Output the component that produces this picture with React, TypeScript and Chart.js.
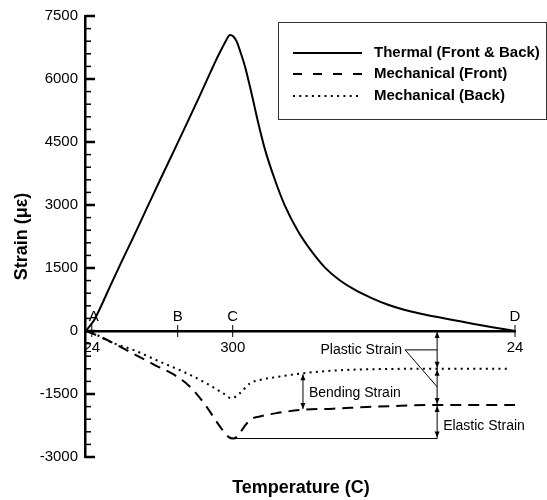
import React, { useEffect, useRef } from "react";
import { Chart, registerables } from "chart.js";

Chart.register(...registerables);

// ---- Data (x = process position: A=0 ... D=100) ----
const thermalT = [-1.4, 0.5, 2.05, 4.4, 6.8, 9.8, 12.9, 16.1, 19.6, 22.5, 25.5, 28.0, 29.5, 30.8, 31.8, 32.6, 33.4, 34.2, 35.2, 36.2, 37.7, 39.3, 40.9, 43.2, 45.6, 48.7, 51.9, 55.1, 58.5, 62.0, 66.0, 70.0, 74.0, 78.0, 82.0, 86.0, 90.0, 95.0, 100];
const thermalStrain = [0, 250, 560, 1080, 1600, 2230, 2900, 3590, 4330, 4950, 5600, 6150, 6480, 6740, 6930, 7050, 7020, 6900, 6620, 6300, 5680, 4970, 4330, 3620, 2990, 2380, 1900, 1510, 1215, 990, 790, 625, 500, 405, 325, 250, 175, 85, 0];

const frontT = [-1.4, 2.3, 7.0, 11.7, 14.9, 18.8, 21.5, 23.9, 27.1, 30.3, 32.3, 33.4, 34.4, 35.8, 37.4, 39.7, 43.7, 50.0, 57.0, 65.0, 73.0, 81.0, 89.0, 100];
const frontStrain = [0, -150, -390, -640, -810, -1005, -1180, -1400, -1800, -2275, -2520, -2560, -2510, -2310, -2115, -2035, -1955, -1875, -1850, -1810, -1780, -1760, -1760, -1760];

const backT = [-1.4, 0.5, 4.3, 9.8, 16.1, 22.4, 27.1, 31.0, 33.0, 35.0, 37.4, 39.7, 44.4, 50.0, 57.8, 65.7, 81.5, 99.0];
const backStrain = [0, -60, -255, -450, -730, -1005, -1245, -1480, -1600, -1480, -1245, -1165, -1085, -1005, -940, -910, -900, -900];

const xTickValues = [0, 33.3, 100];
const xTickLabels = ["24", "300", "24"];
const stageLetters = ["A", "B", "C", "D"];
const stageT = [0, 20.3, 33.3, 100];

const seriesNames = ["Thermal (Front & Back)", "Mechanical (Front)", "Mechanical (Back)"];

// annotation values (data units)
const annotT = 81.6;
const annotBack = -900;
const annotFront = -1760;
const annotBottom = -2560;
const bottomStartT = 33.4;
const bendT = 49.9;
const bendTop = -1030;
const bendBottom = -1860;
const plasticLabelY = -450;
const plasticLeaderY = -1330;

const FONT = "Arial, 'Liberation Sans', sans-serif";
const DASH = [11, 7];
const DOT = [2, 4.3];

function arrowHead(ctx: CanvasRenderingContext2D, x: number, y: number, dir: number) {
  // dir: -1 pointing up, 1 pointing down
  ctx.beginPath();
  ctx.moveTo(x, y);
  ctx.lineTo(x - 2.5, y - dir * 6);
  ctx.lineTo(x + 2.5, y - dir * 6);
  ctx.closePath();
  ctx.fill();
}

const decorPlugin = {
  id: "decor",
  afterDatasetsDraw(chart: any) {
    const ctx: CanvasRenderingContext2D = chart.ctx;
    const xs = chart.scales.x;
    const ys = chart.scales.y;
    const area = chart.chartArea;
    const X = (v: number) => xs.getPixelForValue(v);
    const Y = (v: number) => ys.getPixelForValue(v);
    ctx.save();
    ctx.fillStyle = "#000";
    ctx.strokeStyle = "#000";

    // y-axis inward ticks
    for (let v = -3000; v <= 7500; v += 300) {
      const major = v % 1500 === 0;
      ctx.lineWidth = major ? 2.5 : 1.5;
      ctx.beginPath();
      ctx.moveTo(area.left, Y(v));
      ctx.lineTo(area.left + (major ? 10 : 6), Y(v));
      ctx.stroke();
    }

    // x-axis stage ticks and letters
    const y0 = Y(0);
    ctx.lineWidth = 1;
    ctx.font = `15px ${FONT}`;
    ctx.textAlign = "center";
    ctx.textBaseline = "middle";
    stageT.forEach((t, i) => {
      const px = X(t);
      ctx.beginPath();
      ctx.moveTo(px, y0 - 6);
      ctx.lineTo(px, y0 + 6);
      ctx.stroke();
      ctx.fillText(stageLetters[i], px + (i === 0 ? 2 : 0), y0 - 14);
    });

    // annotations
    const ax = X(annotT);
    ctx.lineWidth = 1;
    ctx.beginPath();
    ctx.moveTo(ax, y0);
    ctx.lineTo(ax, Y(annotBottom));
    ctx.moveTo(X(bottomStartT), Y(annotBottom));
    ctx.lineTo(ax, Y(annotBottom));
    ctx.stroke();
    const segs = [
      [0, annotBack],
      [annotBack, annotFront],
      [annotFront, annotBottom],
    ];
    segs.forEach(([a, b]) => {
      arrowHead(ctx, ax, Y(a) + 1, -1);
      arrowHead(ctx, ax, Y(b) - 1, 1);
    });

    // bending strain
    const bx = X(bendT);
    ctx.beginPath();
    ctx.moveTo(bx, Y(bendTop));
    ctx.lineTo(bx, Y(bendBottom));
    ctx.stroke();
    arrowHead(ctx, bx, Y(bendTop), -1);
    arrowHead(ctx, bx, Y(bendBottom), 1);

    // plastic strain leaders
    const ly = Y(plasticLabelY);
    const lx = ax - 32;
    ctx.beginPath();
    ctx.moveTo(lx, ly);
    ctx.lineTo(ax, ly);
    ctx.moveTo(lx, ly);
    ctx.lineTo(ax, Y(plasticLeaderY));
    ctx.stroke();

    ctx.font = `14px ${FONT}`;
    ctx.textBaseline = "middle";
    ctx.textAlign = "right";
    ctx.fillText("Plastic Strain", lx - 3, ly);
    ctx.textAlign = "left";
    ctx.fillText("Bending Strain", bx + 6, Y((bendTop + bendBottom) / 2) + 1);
    ctx.fillText("Elastic Strain", ax + 6, Y((annotFront + annotBottom) / 2) + 4);

    // axis titles
    ctx.font = `bold 18px ${FONT}`;
    ctx.textAlign = "center";
    ctx.fillText("Temperature (C)", (area.left + area.right) / 2 + 1, 488);
    ctx.save();
    ctx.translate(22, (area.top + area.bottom) / 2);
    ctx.rotate(-Math.PI / 2);
    ctx.fillText("Strain (\u03bc\u03b5)", 0, 0);
    ctx.restore();

    // legend
    ctx.lineWidth = 1;
    ctx.strokeStyle = "#333";
    ctx.strokeRect(278.5, 22.5, 268, 97);
    const rows = [53, 74, 96];
    const dashes = [[], [9, 11], [2, 4.3]];
    ctx.strokeStyle = "#000";
    ctx.font = `bold 15px ${FONT}`;
    ctx.textAlign = "left";
    rows.forEach((ry, i) => {
      ctx.lineWidth = 2;
      ctx.setLineDash(dashes[i]);
      ctx.beginPath();
      ctx.moveTo(293, ry);
      ctx.lineTo(362, ry);
      ctx.stroke();
      ctx.setLineDash([]);
      ctx.fillText(seriesNames[i], 374, ry);
    });
    ctx.restore();
  },
};

export default function App() {
  const ref = useRef<HTMLCanvasElement>(null);
  useEffect(() => {
    if (!ref.current) return;
    const mk = (xsArr: number[], ysArr: number[]) => xsArr.map((x, i) => ({ x, y: ysArr[i] }));
    const chart = new Chart(ref.current, {
      type: "line",
      data: {
        datasets: [
          {
            label: seriesNames[0],
            data: mk(thermalT, thermalStrain),
            borderColor: "#000",
            borderWidth: 2,
            pointRadius: 0,
            cubicInterpolationMode: "monotone",
          },
          {
            label: seriesNames[1],
            data: mk(frontT, frontStrain),
            borderColor: "#000",
            borderWidth: 2,
            borderDash: DASH,
            pointRadius: 0,
            cubicInterpolationMode: "monotone",
          },
          {
            label: seriesNames[2],
            data: mk(backT, backStrain),
            borderColor: "#000",
            borderWidth: 2,
            borderDash: DOT,
            pointRadius: 0,
            cubicInterpolationMode: "monotone",
          },
        ],
      },
      options: {
        responsive: false,
        animation: false,
        devicePixelRatio: 1,
        layout: { padding: { left: 0, top: 15, right: 32, bottom: 43 } },
        plugins: { legend: { display: false }, tooltip: { enabled: false } },
        scales: {
          x: {
            type: "linear",
            min: -1.6,
            max: 100,
            position: { y: 0 } as any,
            grid: { display: false, drawTicks: false },
            border: { display: true, color: "#000", width: 2.5 },
            afterBuildTicks: (s: any) => {
              s.ticks = xTickValues.map((v) => ({ value: v }));
            },
            ticks: {
              color: "#000",
              font: { family: FONT, size: 15 },
              padding: 8,
              maxRotation: 0,
              autoSkip: false,
              callback: (_v: any, i: number) => xTickLabels[i],
            },
          },
          y: {
            type: "linear",
            min: -3000,
            max: 7500,
            grid: { display: false, drawTicks: false },
            border: { display: true, color: "#000", width: 2.5 },
            afterFit: (s: any) => {
              s.width = 85;
            },
            ticks: {
              stepSize: 1500,
              color: "#000",
              font: { family: FONT, size: 15 },
              padding: 7,
              callback: (v: any) => `${v}`,
            },
          },
        },
      },
      plugins: [decorPlugin],
    });
    return () => chart.destroy();
  }, []);
  return (
    <div style={{ position: "absolute", left: 0, top: 0, width: 547, height: 500, background: "#fff" }}>
      <canvas ref={ref} width={547} height={500} />
    </div>
  );
}
